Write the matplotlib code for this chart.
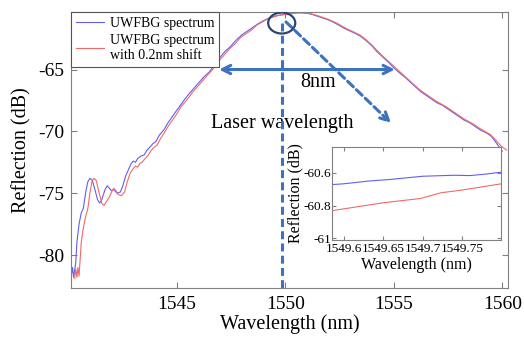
import matplotlib
matplotlib.use("Agg")
import matplotlib.pyplot as plt
from matplotlib.patches import Ellipse

plt.rcParams["font.family"] = ["Liberation Serif", "DejaVu Serif"]
plt.rcParams["axes.unicode_minus"] = False

# main spectrum (blue)
blue_wl = [1540.15, 1540.2, 1540.25, 1540.3, 1540.35, 1540.4, 1540.5, 1540.6, 1540.7,
           1540.8, 1540.9, 1541.0, 1541.1, 1541.2, 1541.35, 1541.45, 1541.55, 1541.7,
           1541.8, 1541.9, 1542.0, 1542.1, 1542.25, 1542.4, 1542.5, 1542.65, 1542.8,
           1542.9, 1543.0, 1543.1, 1543.2, 1543.35, 1543.5, 1543.6, 1543.75, 1543.9,
           1544.05, 1544.2, 1544.4, 1544.6, 1544.8, 1545.0, 1545.25, 1545.5, 1545.75,
           1546.0, 1546.25, 1546.5, 1546.75, 1547.0, 1547.25, 1547.5, 1547.75, 1548.0,
           1548.25, 1548.5, 1548.75, 1549.0, 1549.25, 1549.5, 1549.75, 1550.0, 1550.25,
           1550.5, 1550.75, 1551.0, 1551.25, 1551.5, 1551.75, 1552.0, 1552.25, 1552.5,
           1552.75, 1553.0, 1553.25, 1553.5, 1553.75, 1554.0, 1554.25, 1554.5, 1554.75,
           1555.0, 1555.25, 1555.5, 1555.75, 1556.0, 1556.25, 1556.5, 1556.75, 1557.0,
           1557.25, 1557.5, 1557.75, 1558.0, 1558.25, 1558.5, 1558.75, 1559.0, 1559.25,
           1559.5, 1559.75, 1560.0]
blue_db = [-81.6, -81.0, -81.8, -81.2, -80.6, -79.0, -77.5, -76.6, -76.2,
           -75.0, -74.1, -73.8, -73.9, -74.5, -75.5, -75.8, -75.5, -74.7,
           -74.4, -74.6, -74.8, -74.7, -75.0, -74.9, -74.5, -73.6, -73.0,
           -72.6, -72.4, -72.5, -72.2, -72.0, -71.9, -71.6, -71.3, -71.0,
           -70.8, -70.3, -69.9, -69.3, -68.8, -68.3, -67.7, -67.1, -66.6,
           -66.1, -65.6, -65.2, -64.6, -64.0, -63.5, -63.1, -62.6, -62.2,
           -61.9, -61.6, -61.3, -61.05, -60.85, -60.7, -60.6, -60.55, -60.48,
           -60.43, -60.42, -60.45, -60.55, -60.7, -60.85, -61.0, -61.2, -61.45,
           -61.7, -61.9, -62.1, -62.35, -62.7, -63.1, -63.6, -64.0, -64.4,
           -64.85, -65.25, -65.6, -66.0, -66.4, -66.8, -67.1, -67.4, -67.7,
           -67.9, -68.2, -68.5, -68.8, -69.1, -69.3, -69.6, -69.9, -70.1,
           -70.4, -71.0, -71.6]

# spectrum with 0.2nm shift (red)
red_wl = [1540.3, 1540.35, 1540.4, 1540.45, 1540.5, 1540.55, 1540.6, 1540.7, 1540.8,
          1540.9, 1541.0, 1541.1, 1541.2, 1541.3, 1541.4, 1541.55, 1541.65, 1541.75,
          1541.9, 1542.0, 1542.1, 1542.2, 1542.3, 1542.45, 1542.6, 1542.7, 1542.85,
          1543.0, 1543.1, 1543.2, 1543.3, 1543.4, 1543.55, 1543.7, 1543.8, 1543.95,
          1544.1, 1544.25, 1544.4, 1544.6, 1544.8, 1545.0, 1545.2, 1545.45, 1545.7,
          1545.95, 1546.2, 1546.45, 1546.7, 1546.95, 1547.2, 1547.45, 1547.7, 1547.95,
          1548.2, 1548.45, 1548.7, 1548.95, 1549.2, 1549.45, 1549.7, 1549.95, 1550.2,
          1550.45, 1550.7, 1550.95, 1551.2, 1551.45, 1551.7, 1551.95, 1552.2, 1552.45,
          1552.7, 1552.95, 1553.2, 1553.45, 1553.7, 1553.95, 1554.2, 1554.45, 1554.7,
          1554.95, 1555.2, 1555.45, 1555.7, 1555.95, 1556.2, 1556.45, 1556.7, 1556.95,
          1557.2, 1557.45, 1557.7, 1557.95, 1558.2, 1558.45, 1558.7, 1558.95, 1559.2,
          1559.45, 1559.7, 1559.95, 1560.2]
red_db = [-81.9, -81.1, -81.8, -81.0, -81.7, -80.4, -79.0, -77.8, -76.9,
          -76.3, -75.0, -74.0, -73.8, -74.0, -74.8, -75.8, -76.0, -75.7,
          -75.3, -74.9, -74.6, -74.8, -75.1, -75.2, -74.9, -74.2, -73.4,
          -73.0, -72.8, -72.9, -72.6, -72.5, -72.2, -71.9, -71.6, -71.3,
          -71.1, -70.6, -70.2, -69.6, -69.1, -68.6, -68.0, -67.5, -66.9,
          -66.4, -65.9, -65.4, -64.9, -64.3, -63.8, -63.3, -62.9, -62.4,
          -62.1, -61.8, -61.4, -61.15, -60.9, -60.75, -60.62, -60.55, -60.48,
          -60.42, -60.4, -60.42, -60.5, -60.62, -60.77, -60.92, -61.1, -61.32,
          -61.58, -61.8, -62.0, -62.22, -62.55, -62.95, -63.4, -63.85, -64.25,
          -64.65, -65.05, -65.45, -65.85, -66.25, -66.65, -66.95, -67.25, -67.55,
          -67.8, -68.05, -68.35, -68.65, -68.95, -69.2, -69.45, -69.75, -70.0,
          -70.25, -70.7, -71.2, -71.5]

# zoomed-in view
inset_blue_wl = [1549.585, 1549.60, 1549.63, 1549.66, 1549.70, 1549.74, 1549.76, 1549.78, 1549.80]
inset_blue_db = [-60.672, -60.667, -60.651, -60.640, -60.621, -60.615, -60.617, -60.608, -60.596]
inset_red_wl = [1549.585, 1549.608, 1549.65, 1549.697, 1549.723, 1549.749, 1549.80]
inset_red_db = [-60.831, -60.814, -60.783, -60.757, -60.722, -60.706, -60.667]

main_xticks = [1545, 1550, 1555, 1560]
main_yticks = [-80, -75, -70, -65]
inset_xticks = [1549.6, 1549.65, 1549.7, 1549.75]
inset_xticklabels = ["1549.6", "1549.65", "1549.7", "1549.75"]
inset_yticks = [-61, -60.8, -60.6]
inset_yticklabels = ["-61", "-60.8", "-60.6"]

blue = "#6060ee"
red = "#f06a6a"
arrow_col = "#3d72bf"
frame_col = "#808080"
dash = (0, (2.6, 1.4))

fig = plt.figure(figsize=(5.24, 3.37), dpi=100)
ax = fig.add_axes([0.1355, 0.1454, 0.8334, 0.819])
ax.plot(blue_wl, blue_db, color=blue, lw=0.8, label="UWFBG spectrum")
ax.plot(red_wl, red_db, color=red, lw=0.8, label="UWFBG spectrum\nwith 0.2nm shift")
ax.set_xlim(1540.13, 1560.25)
ax.set_ylim(-82.66, -60.35)
ax.set_xticks(main_xticks)
ax.set_yticks(main_yticks)
ax.tick_params(direction="in", top=True, right=True, labelsize=14,
               color=frame_col, length=4)
ax.tick_params(axis="x", pad=6)
ax.tick_params(axis="y", pad=5)
for s in ax.spines.values():
    s.set_color(frame_col)
ax.set_xlabel("Wavelength (nm)", fontsize=14.5, labelpad=1)
ax.set_ylabel("Reflection (dB)", fontsize=14.5, labelpad=5)

leg = ax.legend(loc="upper left", bbox_to_anchor=(0, 1), borderaxespad=0,
                fancybox=False, framealpha=1, edgecolor="#555555", fontsize=10,
                handlelength=2.0, handletextpad=0.4, labelspacing=0.25,
                borderpad=0.38)
leg.get_frame().set_linewidth(0.8)

# annotations
ax.add_patch(Ellipse((0.4825, 0.96), 0.062, 0.076, transform=ax.transAxes,
                     fill=False, edgecolor="#2c4670", lw=1.6, zorder=5))
ax.plot([0.4825, 0.4825], [0.96, 0.0], transform=ax.transAxes, color=arrow_col,
        lw=2.2, ls=dash, zorder=4)
ax.annotate("", xy=(0.7373, 0.5906), xytext=(0.4877, 0.971),
            xycoords="axes fraction", textcoords="axes fraction",
            arrowprops=dict(arrowstyle="->,head_length=0.6,head_width=0.3",
                            color=arrow_col, lw=2.2, ls=dash))
ax.annotate("", xy=(1555.05, -65), xytext=(1546.95, -65),
            arrowprops=dict(arrowstyle="<->,head_length=0.6,head_width=0.3",
                            color=arrow_col, lw=2.2, shrinkA=0, shrinkB=0))
ax.text(0.5656, 0.745, "8nm", transform=ax.transAxes, fontsize=14.5,
        ha="center", va="center")
ax.text(0.4843, 0.5942, "Laser wavelength", transform=ax.transAxes, fontsize=14.5,
        ha="center", va="center")

# inset
ins = fig.add_axes([0.634, 0.288, 0.323, 0.277])
ins.plot(inset_blue_wl, inset_blue_db, color=blue, lw=0.8)
ins.plot(inset_red_wl, inset_red_db, color=red, lw=0.8)
ins.set_xlim(1549.585, 1549.80)
ins.set_ylim(-61.01, -60.44)
ins.set_xticks(inset_xticks)
ins.set_xticklabels(inset_xticklabels)
ins.set_yticks(inset_yticks)
ins.set_yticklabels(inset_yticklabels)
ins.tick_params(direction="in", top=True, right=True, labelsize=9.5,
                color=frame_col, length=3)
ins.tick_params(axis="x", pad=2)
ins.tick_params(axis="y", pad=1)
for s in ins.spines.values():
    s.set_color(frame_col)
ins.set_xlabel("Wavelength (nm)", fontsize=11.5, labelpad=2)
ins.set_ylabel("Reflection (dB)", fontsize=11.5, labelpad=0)

fig.savefig("out.png", dpi=100)
